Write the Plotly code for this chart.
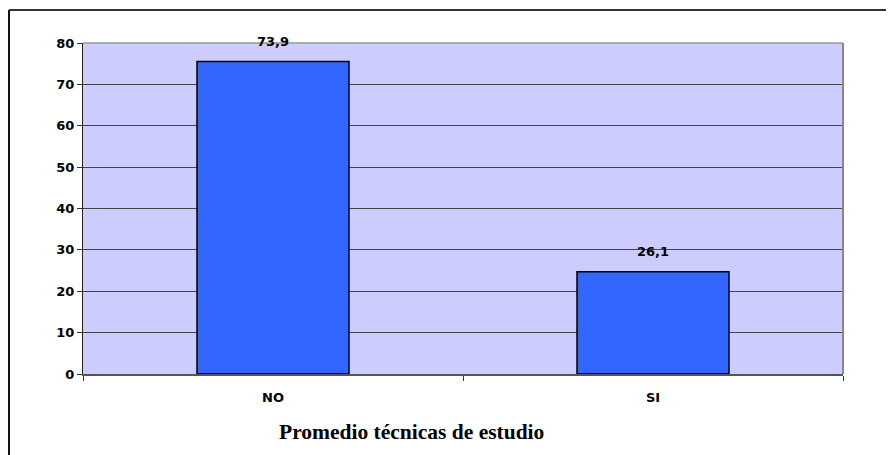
import plotly.graph_objects as go

categories = ["NO", "SI"]
bar_values = [75.5, 24.7]
label_texts = ["73,9", "26,1"]
y_ticks = [0, 10, 20, 30, 40, 50, 60, 70, 80]
title_text = "Promedio técnicas de estudio"

# page has an 8px body margin, so the figure is sized to fit the window
OFF = 8
W, H = 894 - OFF, 455 - OFF
L, R, T, B = 83 - OFF, 894 - 843, 43 - OFF, 455 - 374
pw, ph = W - L - R, H - T - B

def px(x):  # page pixel -> paper
    return (x - OFF - L) / pw

def py(y):
    return (H - B - (y - OFF)) / ph

fig = go.Figure()
fig.add_trace(go.Bar(
    x=categories, y=bar_values,
    marker=dict(color="#3366FF", line=dict(color="#000000", width=1.5)),
    hoverinfo="skip",
))

for c, v, t in zip(categories, bar_values, label_texts):
    fig.add_annotation(x=c, y=v, text="<b>" + t + "</b>", showarrow=False, yshift=20,
                       font=dict(family="DejaVu Sans, Verdana", size=13, color="#000000"),
                       xref="x", yref="y")

fig.add_annotation(x=px(411), y=py(432), xref="paper", yref="paper",
                   xanchor="center", yanchor="middle",
                   text="<b>" + title_text + "</b>", showarrow=False,
                   font=dict(family="Liberation Serif, Times New Roman", size=21.5, color="#000000"))

# outer frame (top and left edges)
fig.add_shape(type="line", xref="paper", yref="paper",
              x0=px(9), x1=px(920), y0=py(10), y1=py(10),
              line=dict(color="#333333", width=2))
fig.add_shape(type="line", xref="paper", yref="paper",
              x0=px(9), x1=px(9), y0=py(10), y1=py(470),
              line=dict(color="#111111", width=2))
# plot area top and right borders
fig.add_shape(type="line", xref="paper", yref="paper",
              x0=0, x1=1, y0=1, y1=1, line=dict(color="#999999", width=1.5))
fig.add_shape(type="line", xref="paper", yref="paper",
              x0=1, x1=1, y0=0, y1=1, line=dict(color="#888888", width=2))

fig.update_layout(
    width=W, height=H,
    margin=dict(l=L, r=R, t=T, b=B),
    paper_bgcolor="#FFFFFF",
    plot_bgcolor="#CCCCFF",
    bargap=0.6,
    showlegend=False,
    font=dict(family="DejaVu Sans, Verdana", size=13, color="#000000"),
)
fig.update_xaxes(
    type="category",
    tickvals=categories, ticktext=[f"<b>{c}</b>" for c in categories],
    tickson="boundaries", ticks="outside", ticklen=5, tickcolor="#333333",
    showline=True, linecolor="#555555", linewidth=1.5,
    showgrid=False,
    tickfont=dict(family="DejaVu Sans, Verdana", size=13, color="#000000"),
    ticklabelstandoff=11,
)
fig.update_yaxes(
    range=[0, 80], tickvals=y_ticks, ticktext=[f"<b>{v}</b>" for v in y_ticks],
    ticks="outside", ticklen=5, tickcolor="#333333",
    showline=True, linecolor="#222222", linewidth=1,
    showgrid=True, gridcolor="#444444", gridwidth=1,
    zeroline=False,
    tickfont=dict(family="DejaVu Sans, Verdana", size=13, color="#000000"),
)

fig.write_html("out.html")
